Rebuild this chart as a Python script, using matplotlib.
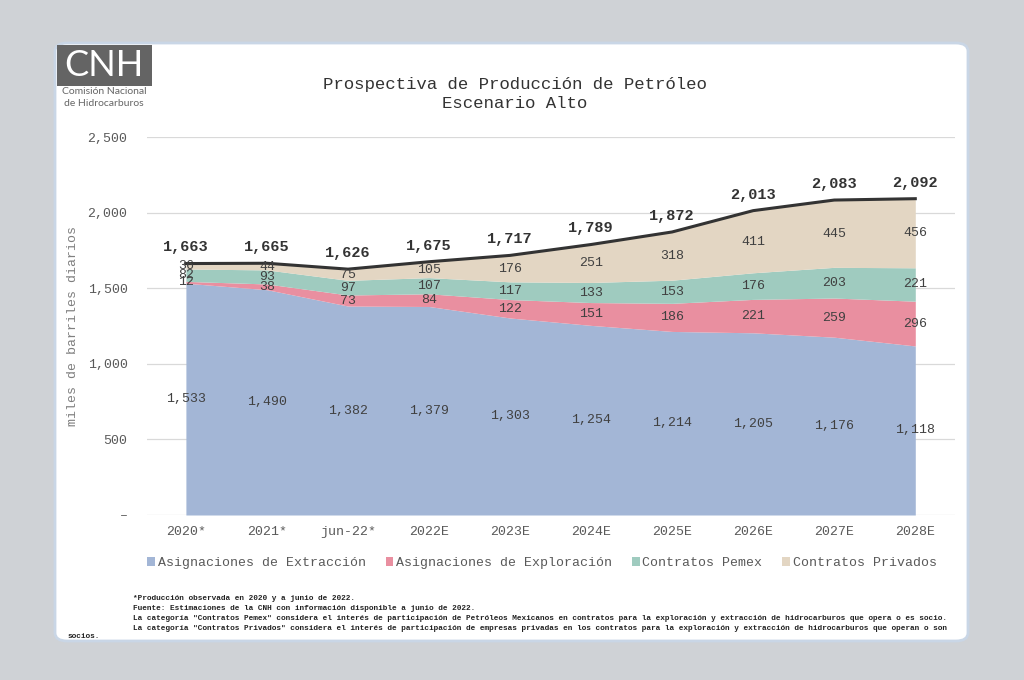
import numpy as np
import matplotlib as mpl
mpl.use('Agg')
import matplotlib.pyplot as plt
from matplotlib.patches import FancyBboxPatch, Rectangle, Patch
from matplotlib.ticker import FuncFormatter

categorias = ['2020*', '2021*', 'jun-22*', '2022E', '2023E', '2024E', '2025E', '2026E', '2027E', '2028E']
extraccion = [1533, 1490, 1382, 1379, 1303, 1254, 1214, 1205, 1176, 1118]
exploracion = [12, 38, 73, 84, 122, 151, 186, 221, 259, 296]
pemex = [82, 93, 97, 107, 117, 133, 153, 176, 203, 221]
privados = [36, 44, 75, 105, 176, 251, 318, 411, 445, 456]
totales = [1663, 1665, 1626, 1675, 1717, 1789, 1872, 2013, 2083, 2092]

series = [
    ('Asignaciones de Extracción', extraccion, '#a3b6d6'),
    ('Asignaciones de Exploración', exploracion, '#e98fa0'),
    ('Contratos Pemex', pemex, '#9fcbbf'),
    ('Contratos Privados', privados, '#e3d6c3'),
]

mono = 'Liberation Mono'
gris = '#595959'

fig = plt.figure(figsize=(10.24, 6.8), dpi=100)
fig.patch.set_facecolor('#cfd2d6')

# white panel
panel = FancyBboxPatch((55 / 1024, 1 - 641 / 680), 913 / 1024, 598 / 680,
                       boxstyle='round,pad=0,rounding_size=0.012',
                       transform=fig.transFigure, facecolor='white',
                       edgecolor='#c9d6e6', linewidth=2, zorder=-2)
fig.patches.append(panel)

# logo
fig.patches.append(Rectangle((57 / 1024, 1 - 86 / 680), 95 / 1024, 41 / 680,
                             transform=fig.transFigure, facecolor='#646464',
                             edgecolor='none', zorder=-1))
fig.text(104 / 1024, 1 - 66 / 680, 'CNH', color='white', fontsize=26, family='Lato',
         ha='center', va='center', zorder=2)
fig.text(104 / 1024, 1 - 92 / 680, 'Comisión Nacional', color='#666666', fontsize=7.5,
         family='Lato', ha='center', va='center')
fig.text(104 / 1024, 1 - 104 / 680, 'de Hidrocarburos', color='#666666', fontsize=7.5,
         family='Lato', ha='center', va='center')

ax = fig.add_axes([147 / 1024, 1 - 515 / 680, 808 / 1024, 378 / 680])
ax.set_zorder(2)
ax.set_facecolor('none')
x = np.arange(len(categorias))

base = np.zeros(len(categorias))
for nombre, vals, color in series:
    vals = np.array(vals, dtype=float)
    ax.fill_between(x, base, base + vals, color=color, linewidth=0, zorder=2)
    for xi, b, v in zip(x, base, vals):
        ax.text(xi, b + v / 2, f'{int(v):,}', ha='center', va='center', fontsize=9.5,
                family=mono, color='#404040', zorder=4)
    base = base + vals

ax.plot(x, totales, color='#333333', linewidth=2.2, zorder=3)
for xi, t in zip(x, totales):
    ax.text(xi, t + 60, f'{t:,}', ha='center', va='bottom', fontsize=11, family=mono,
            fontweight='bold', color='#333333', zorder=4)

ax.set_xlim(-0.48, 9.49)
ax.set_ylim(0, 2500)
ax.set_yticks(np.arange(0, 2501, 500))
ax.yaxis.set_major_formatter(FuncFormatter(lambda v, p: '–' if v == 0 else f'{int(v):,}'))
ax.grid(axis='y', color='#d9d9d9', linewidth=0.9, zorder=1)
ax.set_axisbelow(True)
for s in ax.spines.values():
    s.set_visible(False)
ax.set_xticks(x)
ax.set_xticklabels(categorias)
ax.tick_params(length=0, labelsize=9.5, labelcolor=gris, pad=8)
ax.tick_params(axis='y', pad=14)
for lab in ax.get_xticklabels() + ax.get_yticklabels():
    lab.set_family(mono)
ax.set_ylabel('miles de barriles diarios', family=mono, fontsize=9.5, color='#7f7f7f', labelpad=6)

fig.text(515 / 1024, 1 - 85 / 680, 'Prospectiva de Producción de Petróleo', ha='center', va='center',
         family=mono, fontsize=12.5, color='#333333')
fig.text(515 / 1024, 1 - 104 / 680, 'Escenario Alto', ha='center', va='center',
         family=mono, fontsize=12.5, color='#333333')

handles = [Patch(facecolor=c, edgecolor='none') for _, _, c in series]
fig.legend(handles, [n for n, _, _ in series], loc='center', bbox_to_anchor=(542 / 1024, 1 - 563 / 680),
           ncol=4, frameon=False, handlelength=0.6, handleheight=0.6, handletextpad=0.2,
           columnspacing=1.5, prop={'family': mono, 'size': 9.5}, labelcolor=gris)

notas = [
    '*Producción observada en 2020 y a junio de 2022.',
    'Fuente: Estimaciones de la CNH con información disponible a junio de 2022.',
    'La categoría "Contratos Pemex" considera el interés de participación de Petróleos Mexicanos en contratos para la exploración y extracción de hidrocarburos que opera o es socio.',
    'La categoría "Contratos Privados" considera el interés de participación de empresas privadas en los contratos para la exploración y extracción de hidrocarburos que operan o son',
]
for i, n in enumerate(notas):
    fig.text(133 / 1024, 1 - (599 + 10 * i) / 680, n, ha='left', va='center', family=mono,
             fontsize=5.6, fontweight='bold', color='#222222')
fig.text(68 / 1024, 1 - 636 / 680, 'socios.', ha='left', va='center', family=mono,
         fontsize=5.6, fontweight='bold', color='#222222')

fig.savefig('out.png', dpi=100, facecolor=fig.get_facecolor())
